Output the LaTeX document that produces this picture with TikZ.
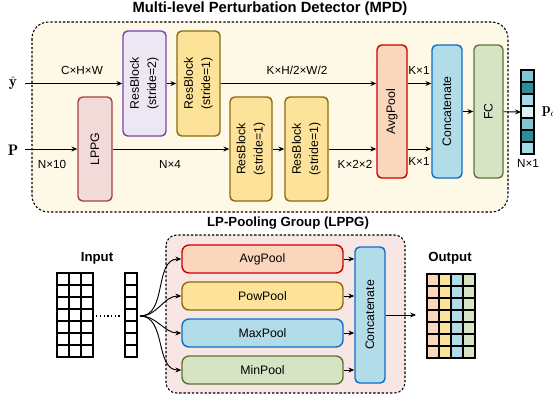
\documentclass[tikz,border=0pt]{standalone}
\usepackage{amsmath,amssymb}
\usepackage{fontspec}
\usepackage{xcolor}
\usepackage{tikz}
\usetikzlibrary{arrows.meta,positioning,calc}

\newfontfamily\lsans{Liberation Sans}

\definecolor{mpdbg}{HTML}{FEF8E6}
\definecolor{lppgbg}{HTML}{F8E6E4}
\definecolor{rbtwofill}{HTML}{ECE7F2}
\definecolor{rbtwoline}{HTML}{7B3FB8}
\definecolor{rbfill}{HTML}{FDE39A}
\definecolor{rbline}{HTML}{8A6B0E}
\definecolor{lpfill}{HTML}{F1DAD8}
\definecolor{lpline}{HTML}{A2433F}
\definecolor{avgfill}{HTML}{FAD6BC}
\definecolor{avgline}{HTML}{CC0000}
\definecolor{catfill}{HTML}{B1DCE8}
\definecolor{catline}{HTML}{0A6ECC}
\definecolor{fcfill}{HTML}{D6E4C3}
\definecolor{fcline}{HTML}{5B7634}
\definecolor{vlight}{HTML}{A6D9E4}
\definecolor{vmid}{HTML}{7EC6D3}
\definecolor{vdark}{HTML}{2F8A99}
\definecolor{vpale}{HTML}{DDF0F4}

\newcommand{\vlab}[2]{\rotatebox{90}{\begin{tabular}{@{}c@{}}#1\\[2pt]#2\end{tabular}}}
\newcommand{\vone}[1]{\rotatebox{90}{#1}}

\begin{document}
\begin{tikzpicture}[x=0.3mm, y=-0.3mm,
    every node/.style={font=\lsans\fontsize{10}{12}\selectfont},
    blk/.style={draw, rounded corners=4pt, line width=1.2pt, inner sep=0pt,
      font=\lsans\fontsize{10.5}{12.6}\selectfont},
    arr/.style={-{Stealth[length=5pt,width=4.2pt]}, line width=0.8pt},
    grp/.style={draw, line width=0.9pt, dash pattern=on 2pt off 1.6pt},
    hdr/.style={font=\lsans\bfseries\fontsize{11.3}{13}\selectfont},
    sym/.style={font=\fontsize{13}{15}\selectfont}]
  \useasboundingbox (0,0) rectangle (553,403);

  % detector
  \draw[grp, fill=mpdbg, rounded corners=14pt] (32,22) rectangle (508,212);
  \node[hdr, font=\lsans\bfseries\fontsize{12.6}{14}\selectfont] (mpdt) at (270,9)
    {Multi-level Perturbation Detector (MPD)};

  \node[sym] (yhat) at (13,83) {$\hat{\mathbf{y}}$};
  \node[sym] (pin) at (13,150) {$\mathbf{P}$};
  \coordinate (ystart) at (25,83.5);
  \coordinate (pstart) at (25,149);

  \node[blk, fill=rbtwofill, draw=rbtwoline, minimum width=12.9mm,
        minimum height=31.5mm] (rb2) at (144.5,83.5) {\vlab{ResBlock}{(stride=2)}};
  \node[blk, fill=rbfill, draw=rbline, minimum width=12.9mm,
        minimum height=31.5mm] (rb1a) at (198.5,83.5) {\vlab{ResBlock}{(stride=1)}};
  \node[blk, fill=lpfill, draw=lpline, minimum width=10.2mm,
        minimum height=31.2mm] (lppg) at (95,149) {\vone{LPPG}};
  \node[blk, fill=rbfill, draw=rbline, minimum width=12.6mm,
        minimum height=31.2mm] (rb1b) at (251,149) {\vlab{ResBlock}{(stride=1)}};
  \node[blk, fill=rbfill, draw=rbline, minimum width=12.9mm,
        minimum height=31.2mm] (rb1c) at (306.5,149) {\vlab{ResBlock}{(stride=1)}};
  \node[blk, fill=avgfill, draw=avgline, minimum width=9mm,
        minimum height=39.9mm] (avg) at (392,111.5) {\vone{AvgPool}};
  \node[blk, fill=catfill, draw=catline, minimum width=9mm,
        minimum height=39.9mm] (cat) at (447,111.5) {\vone{Concatenate}};
  \node[blk, fill=fcfill, draw=fcline, minimum width=8.7mm,
        minimum height=39.9mm] (fc) at (488.5,111.5) {\vone{FC}};

  \draw[arr] (ystart) -- (rb2);
  \draw[arr] (rb2) -- (rb1a);
  \draw[arr] (rb1a) -- (rb1a -| avg.west);
  \draw[arr] (pstart) -- (lppg);
  \draw[arr] (lppg) -- (rb1b);
  \draw[arr] (rb1b) -- (rb1c);
  \draw[arr] (rb1c) -- (rb1c -| avg.west);
  \draw[arr] (rb1a -| avg.east) -- (rb1a -| cat.west);
  \draw[arr] (rb1c -| avg.east) -- (rb1c -| cat.west);
  \draw[arr] (cat) -- (fc);

  \node (d1) at (82,70) {C×H×W};
  \node (d2) at (297,70) {K×H/2×W/2};
  \node (d3) at (52,164) {N×10};
  \node (d4) at (170,164) {N×4};
  \node (d5) at (355,164) {K×2×2};
  \node (d6) at (419,70) {K×1};
  \node (d7) at (419,161) {K×1};

  % output vector
  \foreach \i/\col in {0/vmid,1/vdark,2/vlight,3/vpale,4/vmid,5/vdark,6/vlight}
    \draw[fill=\col, line width=1pt] (521,70+\i*12) rectangle ++(13,12);
  \coordinate (vec) at (521,112);
  \draw[arr] (fc) -- (vec);
  \node[sym, anchor=west] (pc) at (538,112) {$\mathbf{p}_c$};
  \node (d8) at (528,163) {N×1};

  % pooling group
  \draw[grp, fill=lppgbg, rounded corners=9pt] (166,235) rectangle (405,393);
  \node[hdr] (lpt) at (288,223) {LP-Pooling Group (LPPG)};
  \node[blk, fill=avgfill, draw=avgline, minimum width=48.3mm, minimum height=8.4mm,
        rounded corners=6pt] (pavg) at (262.5,259) {AvgPool};
  \node[blk, fill=rbfill, draw=rbline, minimum width=48.3mm, minimum height=8.4mm,
        rounded corners=6pt] (ppow) at (262.5,296) {PowPool};
  \node[blk, fill=catfill, draw=catline, minimum width=48.3mm, minimum height=8.4mm,
        rounded corners=6pt] (pmax) at (262.5,333) {MaxPool};
  \node[blk, fill=fcfill, draw=fcline, minimum width=48.3mm, minimum height=8.4mm,
        rounded corners=6pt] (pmin) at (262.5,370) {MinPool};
  \node[blk, fill=catfill, draw=catline, minimum width=9mm,
        minimum height=40.8mm] (pcat) at (370,315) {\vone{Concatenate}};

  \coordinate (fan) at (140,316);
  \foreach \n in {pavg,ppow,pmax,pmin} {
    \draw[arr] (fan) to[out=0, in=180] (\n.west);
    \draw[arr] (\n) -- (\n -| pcat.west);
  }
  \coordinate (oend) at (416,315);
  \draw[arr] (pcat) -- (oend);

  % input and output grids
  \node[hdr] (inl) at (97,258) {Input};
  \node[hdr] (outl) at (450,258) {Output};
  \foreach \r in {0,...,6} {
    \foreach \c in {0,1,2}
      \draw[line width=1pt] (57+\c*12,273+\r*12) rectangle ++(12,12);
    \draw[line width=1pt] (125,273+\r*12) rectangle ++(12,12);
    \foreach \c/\col in {0/avgfill,1/rbfill,2/catfill,3/fcfill}
      \draw[fill=\col, line width=1pt] (427+\c*12,274+\r*12) rectangle ++(12,12);
  }
  \draw[line width=1.2pt, dotted] (96,316) -- (122,316);
\end{tikzpicture}
\end{document}
